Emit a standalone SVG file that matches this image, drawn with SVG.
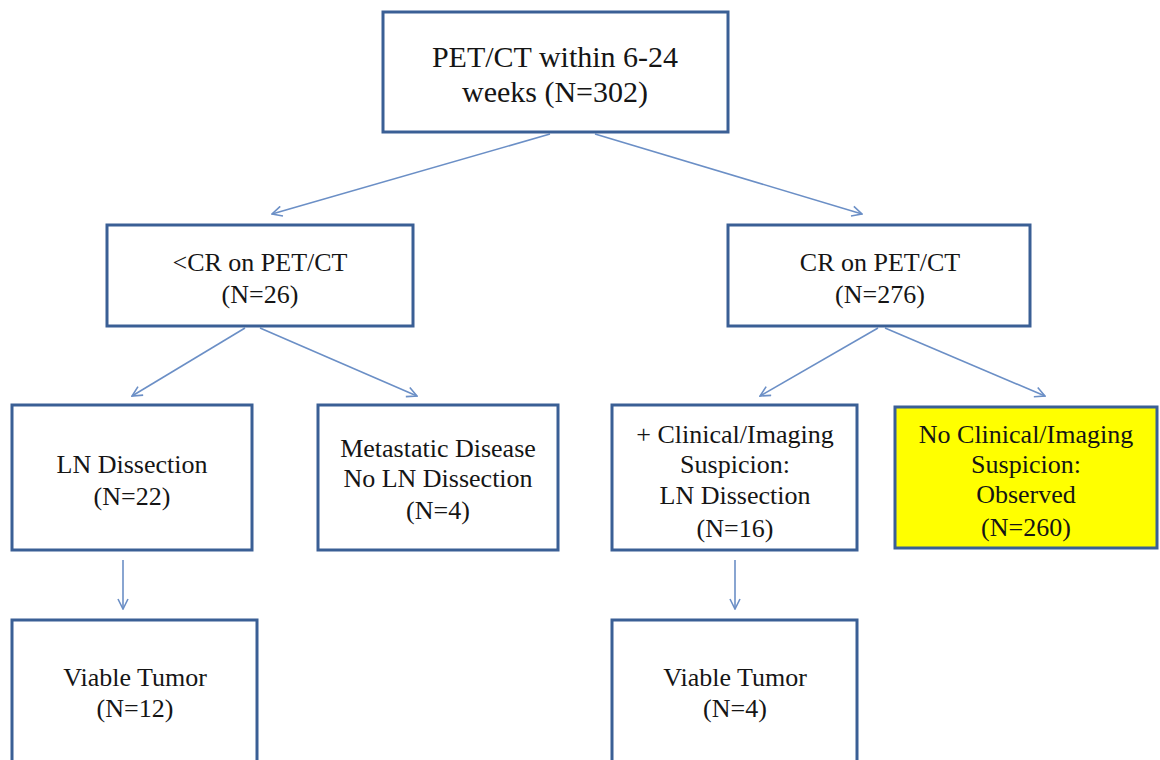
<svg xmlns="http://www.w3.org/2000/svg" width="1160" height="760" viewBox="0 0 1160 760">
<style>
.box{fill:#fff;stroke:#3a5f95;stroke-width:3}
.yel{fill:#ffff00;stroke:#3a5f95;stroke-width:3}
.t{font-family:"Liberation Serif","Times New Roman",serif;font-size:26px;fill:#151515;text-anchor:middle}
.big{font-size:30px}
.c{fill:none;stroke:#6b8fc6;stroke-width:1.6;marker-end:url(#ah)}
</style>
<defs>
<marker id="ah" viewBox="0 0 12 12" refX="11" refY="6" markerWidth="12" markerHeight="12" markerUnits="userSpaceOnUse" orient="auto">
<path d="M1,1 L11,6 L1,11" fill="none" stroke="#6b8fc6" stroke-width="1.6"/>
</marker>
</defs>
<rect width="1160" height="760" fill="#fff"/>
<g id="connectors">
<line class="c" x1="550" y1="134" x2="272" y2="214"/>
<line class="c" x1="595" y1="134" x2="862" y2="214"/>
<line class="c" x1="245" y1="328" x2="132" y2="396"/>
<line class="c" x1="260" y1="328" x2="417" y2="396"/>
<line class="c" x1="878" y1="328" x2="760" y2="396"/>
<line class="c" x1="885" y1="328" x2="1045" y2="396"/>
<line class="c" x1="123" y1="560" x2="123" y2="609"/>
<line class="c" x1="735" y1="560" x2="735" y2="609"/>
</g>
<g id="n-top">
<rect class="box" x="383" y="12" width="345" height="120"/>
<text class="t big" x="555" y="67">PET/CT within 6-24</text>
<text class="t big" x="555" y="102">weeks (N=302)</text>
</g>
<g id="n-ltcr">
<rect class="box" x="107" y="225" width="306" height="101"/>
<text class="t" x="260" y="271">&lt;CR on PET/CT</text>
<text class="t" x="260" y="303">(N=26)</text>
</g>
<g id="n-cr">
<rect class="box" x="728" y="225" width="302" height="101"/>
<text class="t" x="880" y="271">CR on PET/CT</text>
<text class="t" x="880" y="303">(N=276)</text>
</g>
<g id="n-lnd">
<rect class="box" x="12" y="405" width="240" height="145"/>
<text class="t" x="132" y="473">LN Dissection</text>
<text class="t" x="132" y="505">(N=22)</text>
</g>
<g id="n-meta">
<rect class="box" x="318" y="405" width="240" height="145"/>
<text class="t" x="438" y="457">Metastatic Disease</text>
<text class="t" x="438" y="487">No LN Dissection</text>
<text class="t" x="438" y="519">(N=4)</text>
</g>
<g id="n-clin">
<rect class="box" x="612" y="405" width="245" height="145"/>
<text class="t" x="735" y="443">+ Clinical/Imaging</text>
<text class="t" x="735" y="473">Suspicion:</text>
<text class="t" x="735" y="504">LN Dissection</text>
<text class="t" x="735" y="537">(N=16)</text>
</g>
<g id="n-noclin">
<rect class="yel" x="895" y="407" width="262" height="141"/>
<text class="t" x="1026" y="443">No Clinical/Imaging</text>
<text class="t" x="1026" y="473">Suspicion:</text>
<text class="t" x="1026" y="503">Observed</text>
<text class="t" x="1026" y="536">(N=260)</text>
</g>
<g id="n-vt1">
<rect class="box" x="12" y="620" width="245" height="160"/>
<text class="t" x="135" y="686">Viable Tumor</text>
<text class="t" x="135" y="717">(N=12)</text>
</g>
<g id="n-vt2">
<rect class="box" x="612" y="620" width="245" height="160"/>
<text class="t" x="735" y="686">Viable Tumor</text>
<text class="t" x="735" y="717">(N=4)</text>
</g>
</svg>
